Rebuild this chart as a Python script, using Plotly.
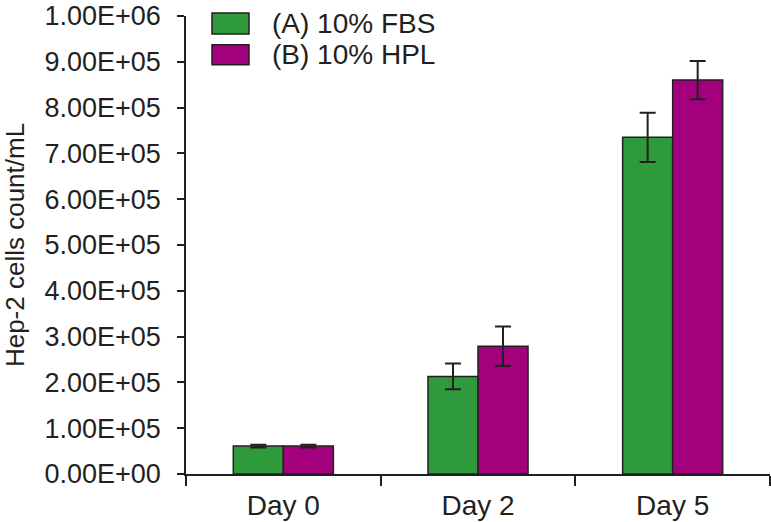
import plotly.graph_objects as go

categories = ["Day 0", "Day 2", "Day 5"]
series_names = ["(A) 10% FBS", "(B) 10% HPL"]
fbs_values = [61000, 213000, 735000]
fbs_errors = [3000, 28000, 54000]
hpl_values = [61000, 279000, 860000]
hpl_errors = [3000, 43000, 42000]
y_tick_vals = [0, 100000, 200000, 300000, 400000, 500000, 600000, 700000, 800000, 900000, 1000000]
y_tick_text = ["0.00E+00", "1.00E+05", "2.00E+05", "3.00E+05", "4.00E+05", "5.00E+05",
               "6.00E+05", "7.00E+05", "8.00E+05", "9.00E+05", "1.00E+06"]
y_title = "Hep-2 cells count/mL"

GREEN = "#2e9a3b"
MAGENTA = "#a3007e"
DARK = "#231f20"
FONT = "Liberation Sans, Arial, Helvetica, sans-serif"
FS = 28

fig = go.Figure()
for name, vals, errs, col in [(series_names[0], fbs_values, fbs_errors, GREEN),
                              (series_names[1], hpl_values, hpl_errors, MAGENTA)]:
    fig.add_trace(go.Bar(
        x=categories, y=vals, name=name,
        marker=dict(color=col, line=dict(color=DARK, width=1.5)),
        error_y=dict(type="data", array=errs, visible=True, color=DARK, thickness=2, width=8),
        showlegend=False,
    ))

# legend drawn as swatches + text
L, R, T, B = 186, 1, 13, 48
W, H = 771, 522
pw, ph = W - L - R, H - T - B
def px(x):
    return (x - L) / pw
def py(y):
    return (H - B - y) / ph

swatches = [(10, 31, GREEN), (42, 62, MAGENTA)]
for (y0, y1, col), name in zip(swatches, series_names):
    fig.add_shape(type="rect", xref="paper", yref="paper",
                  x0=px(212), x1=px(249), y0=py(y1), y1=py(y0),
                  fillcolor=col, line=dict(color=DARK, width=1.5))
    fig.add_annotation(xref="paper", yref="paper", x=px(270), y=py((y0 + y1) / 2),
                       text=name, showarrow=False, xanchor="left", yanchor="middle",
                       font=dict(size=FS, color=DARK, family=FONT))

fig.update_layout(
    width=W, height=H,
    margin=dict(l=L, r=R, t=T, b=B, pad=0),
    paper_bgcolor="white", plot_bgcolor="white",
    barmode="group", bargap=0.486, bargroupgap=0,
    font=dict(family=FONT, size=FS, color=DARK),
)
fig.update_xaxes(
    showline=True, linecolor=DARK, linewidth=1.5,
    ticks="outside", ticklen=10, tickwidth=1.5, tickcolor=DARK,
    tickson="boundaries", showgrid=False, zeroline=False,
    tickfont=dict(size=FS, family=FONT, color=DARK),
    ticklabelstandoff=6,
)
fig.update_yaxes(
    range=[0, 1000000], tickvals=y_tick_vals, ticktext=y_tick_text,
    showline=True, linecolor=DARK, linewidth=1.5,
    ticks="outside", ticklen=7, tickwidth=1.5, tickcolor=DARK,
    showgrid=False, zeroline=False, ticklabeloverflow="allow",
    tickfont=dict(size=27, family=FONT, color=DARK),
    ticklabelstandoff=11,
    title=dict(text=y_title, font=dict(size=26, family=FONT, color=DARK), standoff=13),
)

fig.write_html("out.html", config={"displayModeBar": False},
               post_script="document.body.style.margin='0';")
